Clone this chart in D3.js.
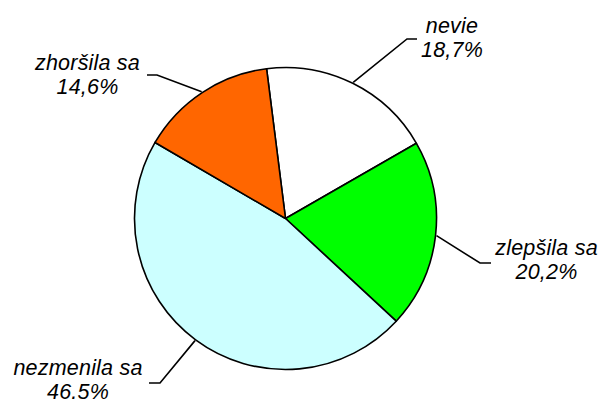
<!DOCTYPE html>
<html>
<head>
<meta charset="utf-8">
<script src="https://cdn.jsdelivr.net/npm/d3@7"></script>
<style>
  html, body { margin: 0; padding: 0; background: #fff; }
  svg { display: block; }
  text { font-family: "Liberation Sans", Arial, sans-serif; font-style: italic; font-size: 21.5px; letter-spacing: 0.2px; fill: #000; }
</style>
</head>
<body>
<svg id="chart" width="603" height="405"></svg>
<script>
const categories = ["nevie", "zlepšila sa", "nezmenila sa", "zhoršila sa"];
const values = [18.7, 20.2, 46.5, 14.6];
const valueLabels = ["18,7%", "20,2%", "46.5%", "14,6%"];
const colors = ["#FFFFFF", "#00FF00", "#CCFFFF", "#FF6600"];

// layout (label anchors relative to pie center, elbow points, text positions)
const W = 603, H = 405;
const cx = 285.5, cy = 218.5, R = 151;
const startDeg = -7.2;
const labelLayout = [
  { elbow: [121.5, -179.5], end: [131.5, -179.5], text: [166.5, -185.5] },
  { elbow: [194.5, 44.5], end: [205.5, 44.5], text: [261, 36.5] },
  { elbow: [-125.5, 164.5], end: [-136.5, 164.5], text: [-207.5, 156.5] },
  { elbow: [-128.5, -143.5], end: [-138.5, -143.5], text: [-198, -148.5] }
];

const svg = d3.select("#chart");
const g = svg.append("g").attr("transform", `translate(${cx},${cy})`);

const pie = d3.pie().sort(null).value(d => d)
  .startAngle(startDeg * Math.PI / 180)
  .endAngle(startDeg * Math.PI / 180 + 2 * Math.PI);
const arcs = pie(values);
const arc = d3.arc().innerRadius(0).outerRadius(R);

g.selectAll("path.slice").data(arcs).enter().append("path")
  .attr("class", "slice")
  .attr("d", arc)
  .attr("fill", (d, i) => colors[i])
  .attr("stroke", "#000")
  .attr("stroke-width", 1.6)
  .attr("stroke-linejoin", "round");

// leader lines
g.selectAll("polyline.leader").data(arcs).enter().append("polyline")
  .attr("class", "leader")
  .attr("fill", "none")
  .attr("stroke", "#000")
  .attr("stroke-width", 1.6)
  .attr("points", (d, i) => {
    const a = (d.startAngle + d.endAngle) / 2;
    const s = [Math.sin(a) * (R + 1), -Math.cos(a) * (R + 1)];
    const L = labelLayout[i];
    return [s, L.elbow, L.end].map(p => p.join(",")).join(" ");
  });

// labels
const lbl = g.selectAll("text.lbl").data(arcs).enter().append("text")
  .attr("class", "lbl")
  .attr("text-anchor", "middle")
  .attr("x", (d, i) => labelLayout[i].text[0])
  .attr("y", (d, i) => labelLayout[i].text[1]);
lbl.append("tspan")
  .attr("x", (d, i) => labelLayout[i].text[0])
  .text((d, i) => categories[i]);
lbl.append("tspan")
  .attr("x", (d, i) => labelLayout[i].text[0])
  .attr("dy", 23.5)
  .text((d, i) => valueLabels[i]);
</script>
</body>
</html>
